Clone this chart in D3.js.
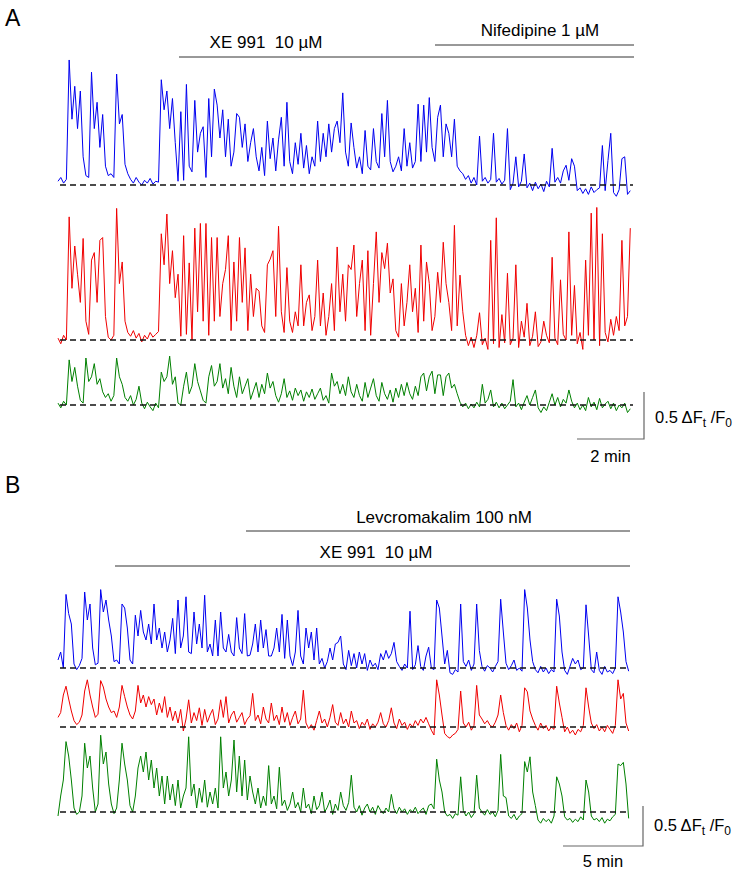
<!DOCTYPE html>
<html>
<head>
<meta charset="utf-8">
<script src="https://d3js.org/d3.v7.min.js"></script>
<style>
  body { margin: 0; background: #fff; }
  svg text { font-family: "Liberation Sans", Arial, sans-serif; fill: #000; }
</style>
</head>
<body>
<svg id="chart" width="735" height="872"></svg>
<script>
// values are ΔFt/F0 in %, one sample every dtA / dtB seconds
const dtA = 5;
const dtB = 10;

// panel A: control -> XE 991 -> + nifedipine
const blueA = [4,8,2,6,133,70,105,60,100,30,
  10,8,120,60,88,40,75,20,10,12,
  8,118,65,75,22,12,6,2,8,3,
  0,5,2,7,1,4,3,112,80,100,
  60,92,45,4,78,5,107,20,14,90,
  35,55,62,8,92,30,102,85,50,80,
  30,70,20,35,76,72,40,65,25,45,
  60,30,15,40,10,68,28,50,15,48,
  72,20,88,25,12,45,22,55,18,42,
  12,30,20,68,25,55,30,65,35,60,
  68,45,98,35,20,66,40,18,30,12,
  58,20,16,60,25,18,76,30,90,25,
  14,20,30,15,60,20,45,18,25,86,
  25,85,35,93,40,25,72,85,30,65,
  55,30,70,20,15,12,6,10,2,8,
  0,52,4,8,2,6,55,3,7,1,
  5,60,-5,2,30,-2,4,33,-3,2,
  -6,3,-4,1,-7,4,-2,39,3,8,
  2,15,21,5,28,20,-6,-3,-9,-4,
  -10,-2,-8,-5,-3,42,-6,26,55,-8,
  -12,-5,28,30,-10,-6];

const redA = [2,-4,5,0,131,55,100,70,40,108,
  20,6,85,93,40,106,109,25,3,0,
  5,140,60,83,20,8,4,10,2,7,
  -2,5,1,8,3,6,9,113,80,134,
  60,95,45,70,4,111,6,82,0,119,
  30,124,20,124,5,109,20,109,25,60,
  75,111,10,83,20,109,40,98,10,70,
  25,55,52,15,8,80,86,95,25,121,
  30,8,77,20,8,30,15,80,15,40,
  48,10,25,85,15,50,5,25,60,10,
  99,30,70,20,80,75,101,25,60,85,
  10,95,5,60,115,40,93,76,103,50,
  65,10,3,60,15,40,80,30,55,8,
  101,20,83,60,10,25,72,40,104,60,
  40,10,122,15,69,30,5,-6,3,-8,
  5,29,-5,2,-10,106,-4,130,-8,27,
  -3,71,-5,2,80,-8,20,3,39,-6,
  4,30,-7,-2,20,5,-3,88,2,-5,
  64,6,0,115,5,58,-4,8,-10,85,
  5,135,0,141,-6,113,8,-2,22,5,
  25,10,106,15,25,119];

const greenA = [2,-3,4,0,48,25,40,20,5,2,
  50,25,30,44,22,28,14,8,12,4,
  10,50,30,22,8,4,10,0,6,20,
  2,-4,3,-2,-6,2,-3,35,25,30,
  52,22,30,2,0,20,35,12,20,44,
  25,15,5,2,30,42,20,25,44,18,
  28,12,40,20,8,30,12,20,28,6,
  15,24,8,22,12,34,18,25,10,3,
  12,28,8,15,5,18,10,16,4,14,
  8,17,6,12,18,5,10,2,34,20,
  25,12,22,10,30,14,8,22,10,4,
  24,8,18,28,10,4,24,12,6,16,
  3,18,8,22,10,24,12,6,20,10,
  30,34,15,30,36,12,32,32,10,30,
  34,18,22,12,3,-2,2,-4,1,-3,
  3,-2,22,2,6,16,-2,3,-3,2,
  -4,0,4,27,-2,2,-5,3,10,0,
  8,16,-3,-8,-2,-6,3,12,0,8,
  -2,6,2,16,4,-3,2,-5,0,-6,
  8,-2,3,-5,7,-3,1,4,-4,2,
  -6,0,-3,2,-8,-4];

// panel B: control -> XE 991 -> + levcromakalim
const blueB = [10,20,0,92,68,55,5,-2,3,12,
  95,60,80,25,4,6,98,70,85,60,
  40,8,10,5,80,75,50,10,5,66,
  40,72,45,35,55,30,80,35,50,25,
  45,20,35,62,18,85,25,40,89,20,
  18,70,30,55,25,91,20,30,15,60,
  15,70,25,20,42,20,15,63,25,18,
  68,15,16,30,55,20,60,25,48,15,
  15,25,50,20,67,12,60,15,3,20,
  72,15,5,50,25,45,10,50,5,12,
  0,8,25,10,30,32,40,5,-2,22,
  3,18,0,20,5,18,-3,10,2,6,
  -2,18,10,22,12,18,32,8,2,-3,
  5,0,71,-2,4,28,2,-3,15,26,
  0,-2,85,75,40,5,22,-6,-8,-2,
  -5,80,8,2,10,-3,5,80,22,2,
  -4,3,0,-5,2,8,86,45,6,-2,
  3,10,-3,0,-4,98,75,35,8,-2,
  -6,2,-5,0,-7,-2,-5,86,65,20,
  -3,-8,2,12,5,10,-2,0,79,40,
  -2,-6,20,-3,-8,2,-5,-3,-7,0,
  89,70,45,8,-4];

const redB = [12,18,40,51,35,20,8,3,6,15,
  45,59,40,25,12,16,58,50,35,25,
  18,20,12,25,52,38,25,15,10,20,
  52,30,40,25,38,28,35,15,30,18,
  38,12,25,8,20,5,22,-5,10,34,
  5,18,8,24,2,22,6,15,22,3,
  10,34,12,38,5,15,20,6,12,18,
  3,10,14,42,8,15,4,25,10,5,
  30,8,15,3,25,6,18,2,12,20,
  4,10,46,5,-2,3,-4,8,20,5,
  10,0,12,28,6,2,18,4,10,0,
  20,5,8,-2,6,2,10,-3,4,0,
  6,18,4,0,8,24,5,-2,10,2,
  6,-3,4,0,8,2,10,5,12,4,
  -4,-10,59,40,15,-8,-12,-14,-10,-8,
  -3,45,5,0,6,-4,2,52,15,10,
  4,8,2,0,6,15,40,18,2,-4,
  3,-2,5,-6,2,49,44,20,10,2,
  -4,5,-2,2,-5,0,-3,51,30,12,
  -6,0,-8,-4,-10,-3,-6,2,49,25,
  5,-2,3,-5,0,-6,2,-3,-8,2,
  59,35,42,5,-5];

const greenB = [-5,20,40,88,70,40,5,-3,0,20,
  86,55,70,30,0,10,96,60,75,35,
  10,-2,5,40,86,60,40,8,0,20,
  55,70,50,75,40,65,30,55,20,45,
  10,45,15,35,8,40,5,20,30,94,
  20,35,5,30,12,40,6,25,10,30,
  5,94,30,50,20,40,90,25,70,20,
  65,15,45,25,10,30,5,20,8,58,
  10,20,4,56,8,15,2,10,25,5,
  12,0,30,5,10,-2,20,3,8,25,
  0,6,15,-3,10,2,25,8,2,12,
  46,6,0,8,-4,5,10,0,6,-3,
  8,2,-2,5,0,22,4,-2,6,0,
  4,-3,3,0,6,-2,2,5,-3,8,
  10,4,66,40,25,0,-5,-3,-8,-2,
  -4,44,2,-5,0,-7,-2,46,5,0,
  -4,3,-3,0,-6,2,72,20,18,-5,
  -8,-3,-10,-5,-2,63,50,69,25,8,
  -10,-14,-8,-12,-9,-14,-5,44,35,20,
  -6,-10,-8,-13,-9,-12,-6,-10,40,25,
  -5,-10,-8,-12,-7,-14,-9,-11,-6,-3,
  60,58,62,35,-8];

// scale bars
const scaleBarValue = 50;      // 0.5 ΔFt/F0
const scaleBarTimeA = 120;     // 2 min
const scaleBarTimeB = 300;     // 5 min

const svg = d3.select("#chart");

// 2 min = 67 px in A, 5 min = 80 px in B
const xA = d3.scaleLinear().domain([0, 120]).range([58, 125]);
const yA = d3.scaleLinear().domain([0, 50]).range([0, 47]);
const xB = d3.scaleLinear().domain([0, 300]).range([58, 138]);
const yB = d3.scaleLinear().domain([0, 50]).range([0, 40]);

function drawTrace(values, dt, x, y, base, color, dashEnd) {
  const line = d3.line()
    .x((d, i) => x(i * dt))
    .y((d) => base - y(d));

  svg.append("path")
    .datum(values)
    .attr("d", line)
    .attr("fill", "none")
    .attr("stroke", color)
    .attr("stroke-width", 1)
    .attr("stroke-linejoin", "round");

  // dashed baseline on top of the trace
  svg.append("line")
    .attr("x1", x(0) + 2)
    .attr("x2", dashEnd)
    .attr("y1", base)
    .attr("y2", base)
    .attr("stroke", "#111")
    .attr("stroke-width", 1.4)
    .attr("stroke-dasharray", "6,4");
}

drawTrace(blueA, dtA, xA, yA, 185, "#0000f0", 633);
drawTrace(redA, dtA, xA, yA, 340, "#f00000", 633);
drawTrace(greenA, dtA, xA, yA, 405, "#008000", 633);

drawTrace(blueB, dtB, xB, yB, 668, "#0000f0", 629);
drawTrace(redB, dtB, xB, yB, 727, "#f00000", 629);
drawTrace(greenB, dtB, xB, yB, 812, "#008000", 629);

// drug application bars
function drugBar(label, x1, x2, yLine, yText, xText) {
  svg.append("line")
    .attr("x1", x1).attr("x2", x2)
    .attr("y1", yLine).attr("y2", yLine)
    .attr("stroke", "#333")
    .attr("stroke-width", 1);
  svg.append("text")
    .attr("x", xText)
    .attr("y", yText)
    .attr("text-anchor", "middle")
    .attr("font-size", 17)
    .style("white-space", "pre")
    .text(label);
}

drugBar("XE 991  10 µM", 179, 634, 57, 48, 266);
drugBar("Nifedipine 1 µM", 435, 634, 45, 36, 540);
drugBar("Levcromakalim 100 nM", 246, 630, 531, 523, 444);
drugBar("XE 991  10 µM", 115, 630, 566, 558, 376);

// panel letters
svg.append("text").attr("x", 5).attr("y", 26).attr("font-size", 23).text("A");
svg.append("text").attr("x", 5).attr("y", 493).attr("font-size", 23).text("B");

function drawScaleBar(xRight, yBottom, x, y, tSpan, timeLabel, ratioY, timeY) {
  const h = y(scaleBarValue);
  const w = x(tSpan) - x(0);
  svg.append("path")
    .attr("d", `M${xRight},${yBottom - h}V${yBottom}H${xRight - w}`)
    .attr("fill", "none")
    .attr("stroke", "#666")
    .attr("stroke-width", 1.2);

  const t = svg.append("text")
    .attr("x", xRight + 11)
    .attr("y", ratioY)
    .attr("font-size", 16.5);
  t.append("tspan").text("0.5 \u0394F");
  t.append("tspan").attr("font-size", 12).attr("dy", 4).text("t");
  t.append("tspan").attr("dy", -4).text(" /F");
  t.append("tspan").attr("font-size", 12).attr("dy", 4).text("0");

  svg.append("text")
    .attr("x", xRight - w / 2)
    .attr("y", timeY)
    .attr("text-anchor", "middle")
    .attr("font-size", 16.5)
    .text(timeLabel);
}

drawScaleBar(644, 439, xA, yA, scaleBarTimeA, "2 min", 423, 462);
drawScaleBar(643, 846, xB, yB, scaleBarTimeB, "5 min", 831, 867);
</script>
</body>
</html>
